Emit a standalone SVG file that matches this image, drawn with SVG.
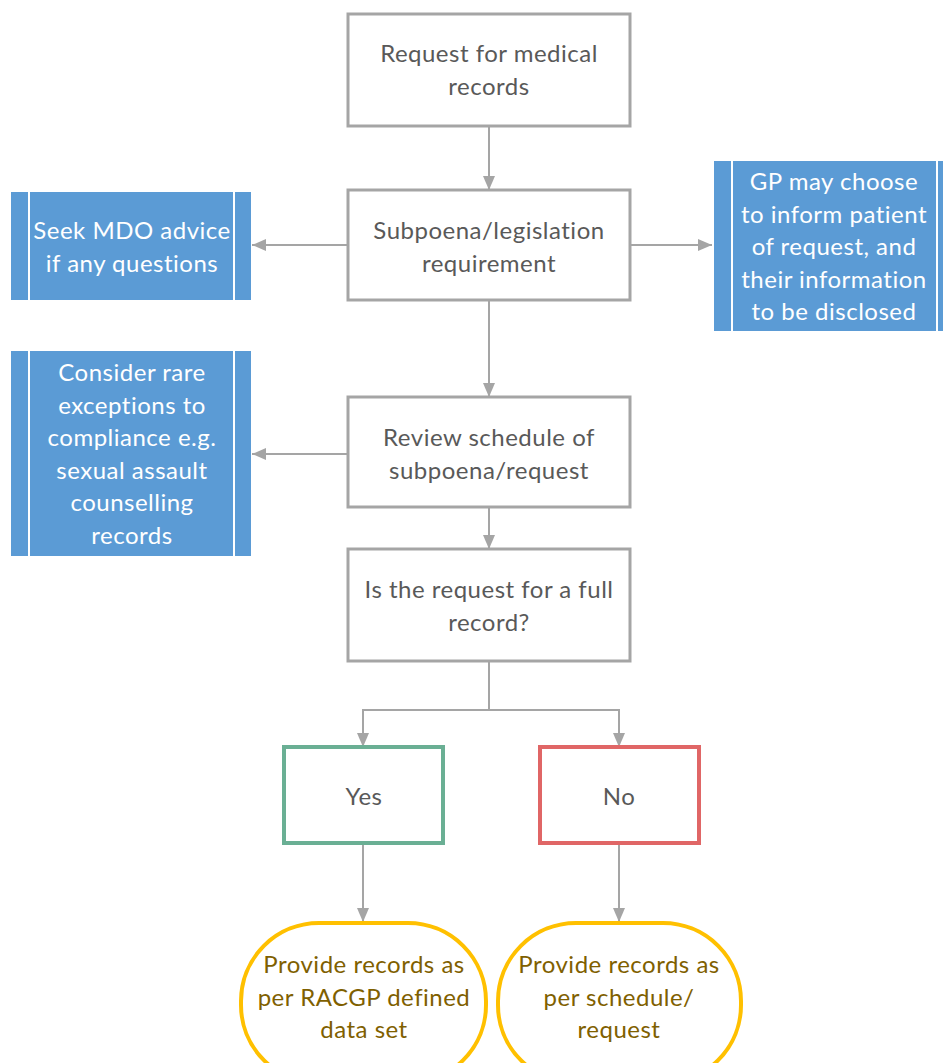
<svg xmlns="http://www.w3.org/2000/svg" width="943" height="1063" viewBox="0 0 943 1063">
<style>
.box{fill:#fff;stroke:#A5A5A5;stroke-width:3}
.blue{fill:#5B9BD5}
.bl{stroke:#fff;stroke-width:2}
.t{font-family:Lato,"Liberation Sans",sans-serif;font-size:24px;letter-spacing:0.5px;text-anchor:middle}
.g{fill:#595959}
.w{fill:#fff}
.o{fill:#7F6000}
.c{stroke:#A5A5A5;stroke-width:2;fill:none}
</style>
<defs>
<marker id="a" viewBox="0 0 14 12" refX="14" refY="6" markerWidth="14" markerHeight="12" markerUnits="userSpaceOnUse" orient="auto">
<path d="M0,0 L14,6 L0,12 z" fill="#A5A5A5"/>
</marker>
</defs>
<g id="connectors">
<path class="c" d="M489,126 V190" marker-end="url(#a)"/>
<path class="c" d="M348,245 H252" marker-end="url(#a)"/>
<path class="c" d="M630,245 H712" marker-end="url(#a)"/>
<path class="c" d="M489,300 V397" marker-end="url(#a)"/>
<path class="c" d="M348,454 H252" marker-end="url(#a)"/>
<path class="c" d="M489,507 V549" marker-end="url(#a)"/>
<path class="c" d="M489,661 V710 H363 V747" marker-end="url(#a)"/>
<path class="c" d="M489,710 H619 V747" marker-end="url(#a)"/>
<path class="c" d="M363,843 V922" marker-end="url(#a)"/>
<path class="c" d="M619,843 V922" marker-end="url(#a)"/>
</g>
<g id="n1"><rect class="box" x="348" y="14" width="282" height="112"/><text class="t g" x="489" y="62">Request for medical</text><text class="t g" x="489" y="95">records</text></g>
<g id="n2"><rect class="box" x="348" y="190" width="282" height="110"/><text class="t g" x="489" y="239">Subpoena/legislation</text><text class="t g" x="489" y="272">requirement</text></g>
<g id="n3"><rect class="box" x="348" y="397" width="282" height="110"/><text class="t g" x="489" y="446">Review schedule of</text><text class="t g" x="489" y="479">subpoena/request</text></g>
<g id="n4"><rect class="box" x="348" y="549" width="282" height="112"/><text class="t g" x="489" y="598">Is the request for a full</text><text class="t g" x="489" y="631">record?</text></g>
<g id="mdo"><rect class="blue" x="11" y="192" width="240" height="108"/><path class="bl" d="M29,192 V300 M234,192 V300"/><text class="t w" x="132" y="239">Seek MDO advice</text><text class="t w" x="132" y="272">if any questions</text></g>
<g id="gp"><rect class="blue" x="714" y="161" width="229" height="170"/><path class="bl" d="M732,161 V331 M937,161 V331"/><text class="t w" x="834" y="190">GP may choose</text><text class="t w" x="834" y="223">to inform patient</text><text class="t w" x="834" y="255">of request, and</text><text class="t w" x="834" y="288">their information</text><text class="t w" x="834" y="320">to be disclosed</text></g>
<g id="rare"><rect class="blue" x="11" y="351" width="240" height="205"/><path class="bl" d="M29,351 V556 M234,351 V556"/><text class="t w" x="132" y="381">Consider rare</text><text class="t w" x="132" y="414">exceptions to</text><text class="t w" x="132" y="446">compliance e.g.</text><text class="t w" x="132" y="479">sexual assault</text><text class="t w" x="132" y="511">counselling</text><text class="t w" x="132" y="544">records</text></g>
<g id="yes"><rect x="284" y="747" width="159" height="96" fill="#fff" stroke="#6AAF94" stroke-width="4"/><text class="t g" x="364" y="805">Yes</text></g>
<g id="no"><rect x="540" y="747" width="159" height="96" fill="#fff" stroke="#E06666" stroke-width="4"/><text class="t g" x="619" y="805">No</text></g>
<g id="o1"><rect x="241" y="923" width="245" height="160" rx="78" ry="78" fill="#fff" stroke="#FFC000" stroke-width="4"/><text class="t o" x="364" y="973">Provide records as</text><text class="t o" x="364" y="1006">per RACGP defined</text><text class="t o" x="364" y="1038">data set</text></g>
<g id="o2"><rect x="498" y="923" width="243" height="160" rx="78" ry="78" fill="#fff" stroke="#FFC000" stroke-width="4"/><text class="t o" x="619" y="973">Provide records as</text><text class="t o" x="619" y="1006">per schedule/</text><text class="t o" x="619" y="1038">request</text></g>
</svg>
